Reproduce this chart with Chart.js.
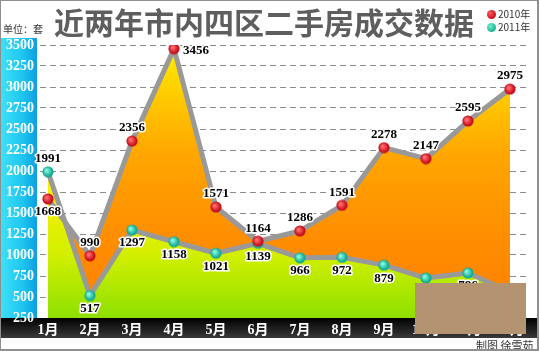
<!DOCTYPE html>
<html>
<head>
<meta charset="utf-8">
<script src="https://cdn.jsdelivr.net/npm/chart.js@4.4.1/dist/chart.umd.min.js"></script>
<style>
  body { margin: 0; background: #fff; }
  #wrap { position: relative; width: 539px; height: 351px; overflow: hidden; }
  #wrap canvas { position: absolute; left: 0; top: 0; }
  .txt { position: absolute; white-space: nowrap; font-family: "Noto Sans CJK SC", sans-serif; }
  #title { left: 54px; top: 3px; font-size: 30px; line-height: 36px; font-weight: 700; color: #5e5e5e; }
  #unit { left: 3px; top: 21px; font-size: 10px; color: #333; }
  .leg { left: 487px; font-size: 10px; color: #333; line-height: 12px; }
  .leg i { display: inline-block; width: 9px; height: 9px; border-radius: 50%; vertical-align: -1px; margin-right: 2px; }
  #credit { left: 476px; top: 337px; font-size: 11px; color: #333; }
  #mask { position: absolute; left: 415px; top: 283px; width: 111px; height: 51px; background: #b39370; }
  #frame { position: absolute; left: 0; top: 0; width: 539px; height: 351px; box-sizing: border-box; border: 1px solid #8f8f8f; border-right-width: 2px; border-bottom-width: 2px; pointer-events: none; }
</style>
</head>
<body>
<div id="wrap">
  <canvas id="chart" width="539" height="351"></canvas>
  <div class="txt" id="title">近两年市内四区二手房成交数据</div>
  <div class="txt" id="unit">单位：套</div>
  <div class="txt leg" style="top:8px"><i style="background:radial-gradient(circle at 35% 35%, #ff6060, #c80d1a 70%)"></i>2010年</div>
  <div class="txt leg" style="top:21px"><i style="background:radial-gradient(circle at 35% 35%, #70f0d0, #17b48f 70%)"></i>2011年</div>
  <div class="txt" id="credit">制图 徐雪茹</div>
  <div id="mask"></div>
  <div id="frame"></div>
</div>
<script>
const months = ["1月", "2月", "3月", "4月", "5月", "6月", "7月", "8月", "9月", "10月", "11月", "12月"];
const sales2010 = [1668, 990, 2356, 3456, 1571, 1164, 1286, 1591, 2278, 2147, 2595, 2975];
const sales2011 = [1991, 517, 1297, 1158, 1021, 1139, 966, 972, 879, 726, 786, 560];
const yTicks = [250, 500, 750, 1000, 1250, 1500, 1750, 2000, 2250, 2500, 2750, 3000, 3250, 3500];

// which side of the marker the value is written on
const side2010 = ["b", "a", "a", "r", "a", "a", "a", "a", "a", "a", "a", "a"];
const side2011 = ["a", "b", "b", "b", "b", "b", "b", "b", "b", "b", "b", "b"];

const toPoints = (arr) => arr.map((v, i) => ({ x: i + 1, y: v }));

const makeDot = (light, dark) => {
  const c = document.createElement("canvas");
  c.width = 12; c.height = 12;
  const g = c.getContext("2d");
  const grad = g.createRadialGradient(4.5, 4.5, 1, 6, 6, 6);
  grad.addColorStop(0, light);
  grad.addColorStop(0.75, dark);
  grad.addColorStop(1, dark);
  g.fillStyle = grad;
  g.beginPath();
  g.arc(6, 6, 5.6, 0, Math.PI * 2);
  g.fill();
  return c;
};
const redDot = makeDot("#ff6a6a", "#c80f1c");
const tealDot = makeDot("#7ff5dc", "#15aa92");

const fill2010 = (ctx) => {
  const area = ctx.chart.chartArea;
  if (!area) return "#ffa000";
  const g = ctx.chart.ctx.createLinearGradient(0, area.top, 0, area.bottom);
  g.addColorStop(0, "#ffee00");
  g.addColorStop(0.2, "#ffc800");
  g.addColorStop(0.4, "#ffa600");
  g.addColorStop(0.7, "#ff8e00");
  g.addColorStop(1, "#ff8000");
  return g;
};
const fill2011 = (ctx) => {
  const area = ctx.chart.chartArea;
  if (!area) return "#c8ee00";
  const g = ctx.chart.ctx.createLinearGradient(0, area.top, 0, area.bottom);
  g.addColorStop(0, "#ffee00");
  g.addColorStop(0.5, "#fff000");
  g.addColorStop(0.77, "#d2ef00");
  g.addColorStop(1, "#8ee000");
  return g;
};

const frame = {
  id: "frame",
  beforeDraw(chart) {
    const { ctx, chartArea } = chart;
    ctx.save();
    const cy = ctx.createLinearGradient(0, 0, 37, 0);
    cy.addColorStop(0, "#3fe2f8");
    cy.addColorStop(0.6, "#1fc6f0");
    cy.addColorStop(1, "#0c9ee0");
    ctx.fillStyle = cy;
    ctx.fillRect(0, 38, 37, chartArea.bottom - 38);
    const bk = ctx.createLinearGradient(0, chartArea.bottom, 0, chartArea.bottom + 20);
    bk.addColorStop(0, "#000");
    bk.addColorStop(1, "#3a3a3a");
    ctx.fillStyle = bk;
    ctx.fillRect(0, chartArea.bottom, chart.width, 20);
    ctx.restore();
  }
};

const valueLabels = {
  id: "valueLabels",
  afterDatasetsDraw(chart) {
    const { ctx } = chart;
    ctx.save();
    ctx.font = "bold 13px 'Liberation Serif', serif";
    ctx.textBaseline = "middle";
    ctx.lineJoin = "round";
    chart.data.datasets.forEach((ds, di) => {
      if (!ds.sides) return;
      const meta = chart.getDatasetMeta(di);
      meta.data.forEach((pt, i) => {
        const s = ds.sides[i];
        let x = pt.x, y = pt.y;
        ctx.textAlign = "center";
        if (s === "a") y -= 13;
        else if (s === "b") y += 13;
        else { x += 9; y += 2; ctx.textAlign = "left"; }
        const txt = String(ds.data[i].y);
        ctx.strokeStyle = "#fff";
        ctx.lineWidth = 3;
        ctx.strokeText(txt, x, y);
        ctx.fillStyle = "#000";
        ctx.fillText(txt, x, y);
      });
    });
    ctx.restore();
  }
};

new Chart(document.getElementById("chart"), {
  type: "line",
  data: {
    datasets: [
      {
        // 2010 area only, kept underneath everything
        label: "2010fill",
        data: toPoints(sales2010),
        fill: "start",
        backgroundColor: fill2010,
        borderWidth: 0,
        pointRadius: 0,
        order: 3,
      },
      {
        label: "2011年",
        data: toPoints(sales2011),
        fill: "start",
        backgroundColor: fill2011,
        borderColor: "#999",
        borderWidth: 5,
        borderJoinStyle: "round",
        pointStyle: tealDot,
        pointRadius: 6,
        sides: side2011,
        order: 2,
      },
      {
        label: "2010年",
        data: toPoints(sales2010),
        fill: false,
        borderColor: "#999",
        borderWidth: 5,
        borderJoinStyle: "round",
        pointStyle: redDot,
        pointRadius: 6,
        sides: side2010,
        order: 1,
      },
    ],
  },
  options: {
    responsive: false,
    animation: false,
    layout: { padding: { left: 0, right: 12, top: 45, bottom: 0 } },
    plugins: {
      legend: { display: false },
      tooltip: { enabled: false },
    },
    scales: {
      x: {
        type: "linear",
        min: 1 - 8 / 42,
        max: 12 + 17 / 42,
        afterBuildTicks: (scale) => {
          scale.ticks = months.map((m, i) => ({ value: i + 1 }));
        },
        afterFit: (scale) => { scale.height = 33; },
        grid: { display: false, drawTicks: false },
        border: { display: false },
        ticks: {
          autoSkip: false,
          maxRotation: 0,
          padding: 4,
          color: "#fff",
          font: { family: "'Liberation Serif', 'Noto Sans CJK SC', serif", size: 14, weight: "bold" },
          callback: (v) => months[v - 1] || "",
        },
      },
      y: {
        min: 250,
        max: 3500,
        afterBuildTicks: (scale) => {
          scale.ticks = yTicks.map((v) => ({ value: v }));
        },
        afterFit: (scale) => { scale.width = 40; },
        grid: {
          drawTicks: false,
          color: (c) => (c.tick && c.tick.value === 250 ? "rgba(0,0,0,0)" : "#8c8c8c"),
          lineWidth: 1,
        },
        border: { display: false, dash: [6, 4] },
        ticks: {
          padding: 6,
          color: "#fff",
          font: { family: "'Liberation Serif', serif", size: 14, weight: "bold" },
          callback: (v) => String(v),
        },
      },
    },
  },
  plugins: [frame, valueLabels],
});
</script>
</body>
</html>
